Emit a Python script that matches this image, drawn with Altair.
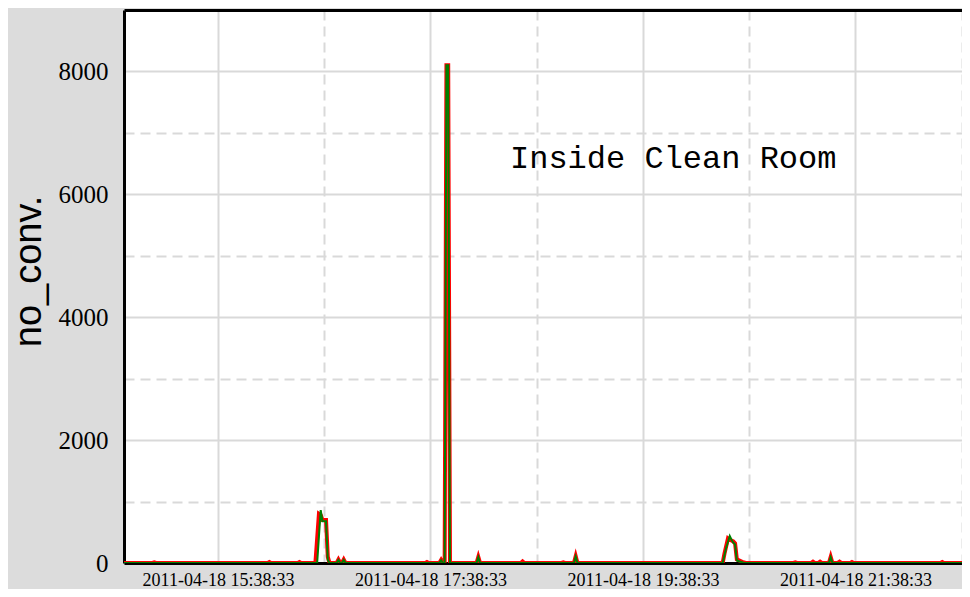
import altair as alt
import pandas as pd

DAY = "2011-04-18 "

red_times = [
    "14:40:33", "15:01:33", "15:02:33", "15:03:33", "16:06:33", "16:07:33", "16:08:33",
    "16:23:33", "16:24:33", "16:25:33", "16:33:33", "16:35:33", "16:36:33", "16:37:33",
    "16:39:33", "16:40:33", "16:41:33", "16:45:33", "16:46:33", "16:47:33", "16:48:33",
    "16:49:33", "16:50:33", "17:35:33", "17:36:33", "17:37:33", "17:43:33", "17:44:33",
    "17:45:33", "17:46:33", "17:47:33", "17:48:33", "17:49:33", "18:04:33", "18:05:33",
    "18:06:33", "18:29:33", "18:30:33", "18:31:33", "18:52:33", "18:53:33", "18:54:33",
    "18:59:33", "19:00:33", "19:01:33", "20:23:33", "20:24:33", "20:26:33", "20:27:33",
    "20:29:33", "20:30:33", "20:31:33", "20:34:33", "20:36:33", "21:03:33", "21:04:33",
    "21:05:33", "21:13:33", "21:14:33", "21:15:33", "21:17:33", "21:18:33", "21:19:33",
    "21:23:33", "21:24:33", "21:25:33", "21:28:33", "21:29:33", "21:30:33", "21:35:33",
    "21:36:33", "21:37:33", "22:26:33", "22:27:33", "22:28:33", "22:40:33", "22:41:33",
    "22:42:33", "22:50:33",
]
red_values = [
    0, 0, 10, 0, 0, 15, 0,
    0, 15, 0, 0, 800, 780, 700,
    700, 100, 0, 0, 55, 0, 0,
    55, 0, 0, 15, 0, 0, 50,
    0, 0, 8100, 8100, 0, 0, 100,
    0, 0, 25, 0, 0, 10, 0,
    0, 110, 0, 0, 150, 400, 380,
    350, 320, 60, 20, 0, 0, 10,
    0, 0, 20, 0, 0, 20, 0,
    0, 100, 0, 0, 20, 0, 0,
    15, 0, 0, 15, 0, 0, 10,
    0, 0,
]

green_times = [
    "14:40:33", "16:34:33", "16:36:33", "16:37:33", "16:39:33", "16:40:33", "16:41:33",
    "16:45:33", "16:46:33", "16:47:33", "16:48:33", "16:49:33", "16:50:33", "17:43:33",
    "17:44:33", "17:45:33", "17:46:33", "17:47:33", "17:48:33", "17:49:33", "18:04:33",
    "18:05:33", "18:06:33", "18:59:33", "19:00:33", "19:01:33", "20:23:33", "20:25:33",
    "20:27:33", "20:28:33", "20:29:33", "20:30:33", "20:31:33", "20:33:33", "20:35:33",
    "21:23:33", "21:24:33", "21:25:33", "22:50:33",
]
green_values = [
    0, 0, 860, 680, 680, 50, 0,
    0, 50, 0, 0, 50, 0, 0,
    45, 0, 0, 8100, 8100, 0, 0,
    95, 0, 0, 105, 0, 0, 250,
    440, 380, 330, 300, 40, 20, 0,
    0, 95, 0, 0,
]

y_ticks = [0, 1000, 2000, 3000, 4000, 5000, 6000, 7000, 8000]
x_tick_hours = [15, 16, 17, 18, 19, 20, 21, 22]

ann_time = ["18:23:27"]
ann_value = [6430]
ann_text = ["Inside Clean Room"]


def dt(h, m, s):
    return alt.DateTime(year=2011, month=4, date=18, hours=h, minutes=m, seconds=s)


red_df = pd.DataFrame({"time": pd.to_datetime([DAY + t for t in red_times]), "value": red_values})
green_df = pd.DataFrame({"time": pd.to_datetime([DAY + t for t in green_times]), "value": green_values})
ann_df = pd.DataFrame({"time": pd.to_datetime([DAY + t for t in ann_time]), "value": ann_value, "text": ann_text})

x_scale = alt.Scale(domain=[dt(14, 45, 28), dt(22, 38, 42)])
y_scale = alt.Scale(domain=[0, 9000], nice=False, zero=True)

x_axis = alt.Axis(
    values=[dt(h, 38, 33) for h in x_tick_hours],
    labelExpr="hours(datum.value) % 2 == 1 ? timeFormat(datum.value, '%Y-%m-%d %H:%M:%S') : ''",
    labelFont="Liberation Serif",
    labelFontSize=18,
    labelColor="black",
    labelPadding=8,
    labelFlush=False,
    labelOverlap=False,
    labelBound=False,
    ticks=False,
    domain=True,
    domainColor="black",
    domainWidth=3,
    grid=True,
    gridColor="#d9d9d9",
    gridWidth=2,
    gridOpacity=1,
    gridDash={"condition": {"test": "hours(datum.value) % 2 == 0", "value": [10, 6]}, "value": []},
    title=None,
)

top_axis = alt.Axis(
    orient="top",
    labels=False,
    ticks=False,
    grid=False,
    domain=True,
    domainColor="black",
    domainWidth=3,
    title=None,
)

y_axis = alt.Axis(
    values=y_ticks,
    format="d",
    labelExpr="datum.value % 2000 == 0 ? datum.label : ''",
    labelFont="Liberation Serif",
    labelFontSize=25,
    labelColor="black",
    labelPadding=16,
    labelOverlap=False,
    labelFlush=False,
    labelBound=False,
    ticks=False,
    domain=True,
    domainColor="black",
    domainWidth=3,
    grid=True,
    gridColor="#d9d9d9",
    gridWidth=2,
    gridOpacity=1,
    gridDash={"condition": {"test": "datum.value % 2000 != 0", "value": [10, 6]}, "value": []},
    title="no_conv.",
    titleFont="Liberation Sans",
    titleFontSize=38,
    titleFontWeight="normal",
    titleColor="black",
    titleAngle=270,
    titleAlign="center",
    titleBaseline="middle",
    titleX=-95,
    titleY=261,
)

red = alt.Chart(red_df).mark_line(color="#ff0000", strokeWidth=4, clip=True).encode(
    x=alt.X("time:T", scale=x_scale, axis=x_axis),
    y=alt.Y("value:Q", scale=y_scale, axis=y_axis),
)
green = alt.Chart(green_df).mark_line(color="#008000", strokeWidth=2, clip=True).encode(
    x=alt.X("time:T", scale=x_scale, axis=None),
    y=alt.Y("value:Q", scale=y_scale),
)
ann = alt.Chart(ann_df).mark_text(
    align="left", baseline="alphabetic", font="Liberation Mono", fontSize=32, color="black"
).encode(
    x=alt.X("time:T", scale=x_scale, axis=top_axis),
    y=alt.Y("value:Q", scale=y_scale),
    text="text:N",
)

chart = (
    alt.layer(red, green, ann)
    .resolve_axis(x="independent")
    .properties(
        width=838,
        height=553,
        padding={"left": 116, "top": 2, "right": 0, "bottom": 26},
        autosize=alt.AutoSizeParams(type="none"),
        background="#dcdcdc",
    )
    .configure_view(stroke=None, fill="white")
)

chart.save("out.html", embed_options={"renderer": "svg", "actions": False})
